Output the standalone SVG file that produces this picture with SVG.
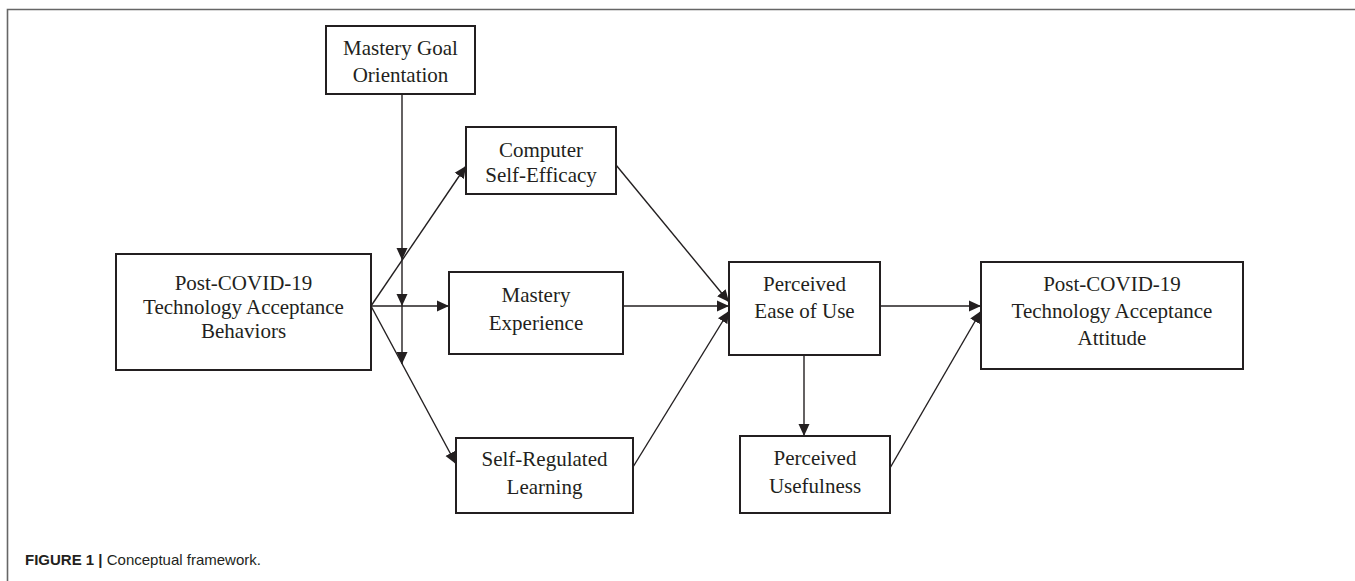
<svg xmlns="http://www.w3.org/2000/svg" width="1355" height="581" viewBox="0 0 1355 581">
<style>
.box{fill:#fff;stroke:#231f20;stroke-width:2}
.lbl{font-family:"Liberation Serif","Times New Roman",serif;font-size:21px;fill:#231f20;text-anchor:middle}
.edge{fill:none;stroke:#231f20;stroke-width:1.4}
.frame{fill:none;stroke:#666;stroke-width:1.6}
.cap{font-family:"Liberation Sans",Arial,sans-serif;font-size:15px;fill:#231f20}
</style>
<defs>
<marker id="ah" markerUnits="userSpaceOnUse" markerWidth="13" markerHeight="12" refX="12" refY="6" orient="auto" viewBox="0 0 13 12">
<path d="M0,0.5 L12,6 L0,11.5 z" fill="#231f20"/>
</marker>
</defs>
<rect width="1355" height="581" fill="#fff"/>
<path class="frame" d="M7.5,581 V9.5 H1355"/>
<g id="connectors">
<line class="edge" x1="402" y1="94" x2="402" y2="260" marker-end="url(#ah)"/>
<line class="edge" x1="402" y1="260" x2="402" y2="306" marker-end="url(#ah)"/>
<line class="edge" x1="402" y1="306" x2="402" y2="364" marker-end="url(#ah)"/>
<line class="edge" x1="371" y1="306" x2="466" y2="166" marker-end="url(#ah)"/>
<line class="edge" x1="371" y1="306" x2="449" y2="306" marker-end="url(#ah)"/>
<line class="edge" x1="371" y1="306" x2="456" y2="464" marker-end="url(#ah)"/>
<line class="edge" x1="616" y1="165" x2="729" y2="302" marker-end="url(#ah)"/>
<line class="edge" x1="623" y1="306" x2="729" y2="306" marker-end="url(#ah)"/>
<line class="edge" x1="633" y1="467" x2="729" y2="311" marker-end="url(#ah)"/>
<line class="edge" x1="880" y1="306" x2="981" y2="306" marker-end="url(#ah)"/>
<line class="edge" x1="804" y1="355" x2="804" y2="436" marker-end="url(#ah)"/>
<line class="edge" x1="890" y1="468" x2="981" y2="311" marker-end="url(#ah)"/>
</g>
<g id="mastery-goal">
<rect class="box" x="326" y="26" width="149" height="68"/>
<text class="lbl" x="400.5" y="55">Mastery Goal</text>
<text class="lbl" x="400.5" y="82">Orientation</text>
</g>
<g id="computer-self-efficacy">
<rect class="box" x="466" y="127" width="150" height="67"/>
<text class="lbl" x="541" y="157">Computer</text>
<text class="lbl" x="541" y="182">Self-Efficacy</text>
</g>
<g id="behaviors">
<rect class="box" x="116" y="254" width="255" height="116"/>
<text class="lbl" x="243.5" y="290">Post-COVID-19</text>
<text class="lbl" x="243.5" y="314">Technology Acceptance</text>
<text class="lbl" x="243.5" y="338">Behaviors</text>
</g>
<g id="mastery-experience">
<rect class="box" x="449" y="272" width="174" height="82"/>
<text class="lbl" x="536" y="302">Mastery</text>
<text class="lbl" x="536" y="330">Experience</text>
</g>
<g id="self-regulated-learning">
<rect class="box" x="456" y="438" width="177" height="75"/>
<text class="lbl" x="544.5" y="466">Self-Regulated</text>
<text class="lbl" x="544.5" y="494">Learning</text>
</g>
<g id="perceived-ease-of-use">
<rect class="box" x="729" y="262" width="151" height="93"/>
<text class="lbl" x="804.5" y="291">Perceived</text>
<text class="lbl" x="804.5" y="318">Ease of Use</text>
</g>
<g id="perceived-usefulness">
<rect class="box" x="740" y="436" width="150" height="77"/>
<text class="lbl" x="815" y="465">Perceived</text>
<text class="lbl" x="815" y="493">Usefulness</text>
</g>
<g id="attitude">
<rect class="box" x="981" y="262" width="262" height="107"/>
<text class="lbl" x="1112" y="291">Post-COVID-19</text>
<text class="lbl" x="1112" y="318">Technology Acceptance</text>
<text class="lbl" x="1112" y="345">Attitude</text>
</g>
<text class="cap" x="25" y="565"><tspan font-weight="bold">FIGURE 1 | </tspan>Conceptual framework.</text>
</svg>
